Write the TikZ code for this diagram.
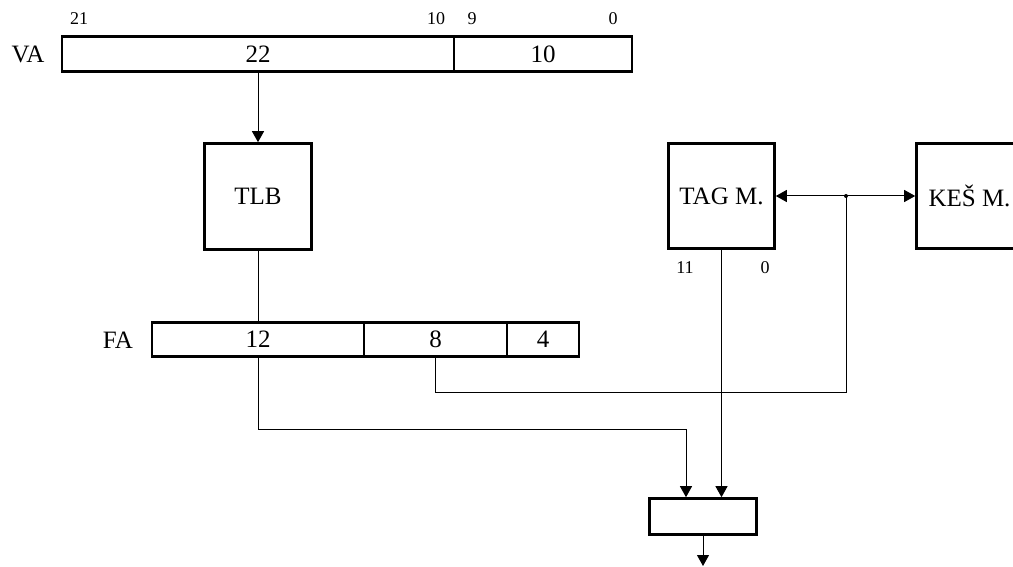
\documentclass[tikz,border=0pt]{standalone}
\usepackage{fontspec}
\setmainfont{Liberation Serif}
\usetikzlibrary{arrows.meta}
\tikzset{
  x=1pt, y=-1pt,
  box/.style={draw, line width=2.6pt, inner sep=0pt, font=\fontsize{25}{28}\selectfont},
  lbl/.style={inner sep=0pt, font=\fontsize{25}{28}\selectfont},
  bitno/.style={inner sep=0pt, font=\fontsize{18}{20}\selectfont},
  wire/.style={line width=1pt},
  arr/.style={wire, -{Triangle[length=11pt,width=12pt]}},
  darr/.style={wire, {Triangle[length=11pt,width=12pt]}-{Triangle[length=11pt,width=12pt]}},
}
\begin{document}
\begin{tikzpicture}
\useasboundingbox (0,0) rectangle (1013,567);
\clip (0,0) rectangle (1013,567);
\fill[white] (0,0) rectangle (1013,567);

% VA register
\node[lbl] (valbl) at (28,54) {VA};
\node[box, minimum width=392, minimum height=35] (va1) at (258,54) {22};
\node[box, minimum width=178, minimum height=35] (va2) at (543,54) {10};
\node[bitno] (b21) at (79,19) {21};
\node[bitno] (b10) at (436,19) {10};
\node[bitno] (b9) at (472,19) {9};
\node[bitno] (b0) at (613,19) {0};

% TLB
\node[box, minimum width=107, minimum height=106] (tlb) at (258,196.5) {TLB};

% FA register
\node[lbl] (falbl) at (118,340) {FA};
\node[box, minimum width=212, minimum height=34] (fa1) at (258,339.5) {12};
\node[box, minimum width=143, minimum height=34] (fa2) at (435.5,339.5) {8};
\node[box, minimum width=72, minimum height=34] (fa3) at (543,339.5) {4};

% TAG and cache memories
\node[box, minimum width=106, minimum height=105] (tag) at (721.5,196) {TAG M.};
\node[box, minimum width=106, minimum height=105] (kes) at (969.5,196) {KEŠ M.};
\node[bitno] (t11) at (685,268) {11};
\node[bitno] (t0) at (765,268) {0};

% comparator
\node[box, minimum width=107, minimum height=36] (cmp) at (703,516.5) {};

% junctions
\coordinate (dot) at (846,196);
\coordinate (j2) at (846,392);
\coordinate (j1) at (686,429);
\coordinate (in1) at (686,498);
\coordinate (out) at (703,566);

% connectors
\draw[arr] (va1.south) -- (tlb.north);
\draw[wire] (tlb.south) -- (fa1.north);
\draw[darr] (tag.east) -- (kes.west);
\fill (dot) circle (2);
\draw[wire] (fa2.south) |- (j2) -- (dot);
\draw[wire] (fa1.south) |- (j1);
\draw[arr] (j1) -- (in1 |- cmp.north);
\draw[arr] (tag.south) -- (tag.south |- cmp.north);
\draw[arr] (cmp.south) -- (out);
\end{tikzpicture}
\end{document}
